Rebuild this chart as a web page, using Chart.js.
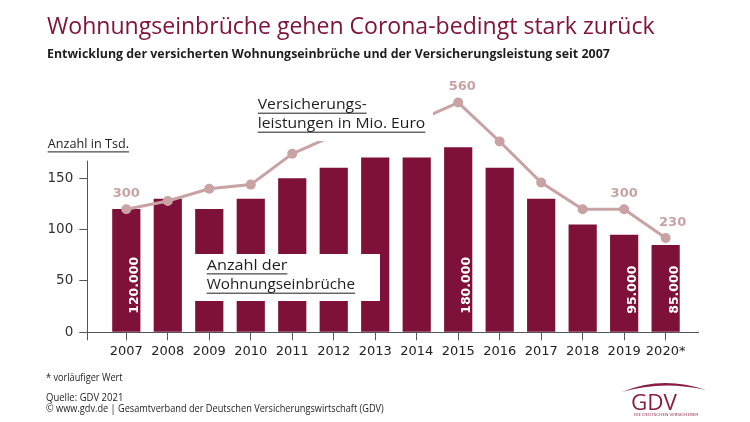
<!DOCTYPE html>
<html><head><meta charset="utf-8">
<script src="https://cdn.jsdelivr.net/npm/chart.js@4.4.1/dist/chart.umd.min.js"></script>
<style>
html,body{margin:0;padding:0;background:#fff;}
#wrap{position:relative;width:750px;height:422px;overflow:hidden;background:#fff;}
#c{position:absolute;left:0;top:0;}
.t{position:absolute;white-space:nowrap;line-height:1;transform-origin:0 0;font-family:'Open Sans',sans-serif;color:#1e1e1e;}
</style></head><body>
<div id="wrap">
<canvas id="c" width="750" height="422"></canvas>
<div class="t" data-w="608" style="left:47px;top:12.7px;font-size:24px;color:#80143f;">Wohnungseinbrüche gehen Corona-bedingt stark zurück</div>
<div class="t" data-w="563" style="left:47px;top:48.2px;font-size:11.5px;font-weight:700;">Entwicklung der versicherten Wohnungseinbrüche und der Versicherungsleistung seit 2007</div>
<div class="t" data-w="77" style="left:46px;top:372.2px;font-size:10px;">* vorläufiger Wert</div>
<div class="t" data-w="77" style="left:46px;top:392.2px;font-size:10px;">Quelle: GDV 2021</div>
<div class="t" data-w="338" style="left:46px;top:402.9px;font-size:10px;">© www.gdv.de | Gesamtverband der Deutschen Versicherungswirtschaft (GDV)</div>
</div>
<script>
// ---- data ----
const categories = ['2007','2008','2009','2010','2011','2012','2013','2014','2015','2016','2017','2018','2019','2020*'];
const burglaries = [120,130,120,130,150,160,170,170,180,160,130,105,95,85];          // Anzahl in Tsd.
const payouts    = [300,320,350,360,435,480,500,515,560,465,365,300,300,230];        // Mio. Euro
const barLabels  = ['120.000','','','','','','','','180.000','','','','95.000','85.000'];
const lineLabels = ['300','','','','','','','','560','','','','300','230'];
const yTicks = [0,50,100,150];
const yAxisTop = 167;

const BAR = '#7e1139';
const LINE = '#c9a2a4';
const Y_MAX = 245.5;
const Y2_MAX = Y_MAX * 2.505;

function fitText(ctx, text, x, y, w) {
  const m = ctx.measureText(text).width;
  ctx.save(); ctx.translate(x, y); ctx.scale(w / m, 1); ctx.fillText(text, 0, 0); ctx.restore();
}

const axisLine = {
  id: 'axisLine',
  beforeDatasetsDraw(chart) {
    const ctx = chart.ctx, ys = chart.scales.y, x = Math.round(chart.chartArea.left) + 0.5;
    ctx.save();
    ctx.strokeStyle = '#555'; ctx.lineWidth = 1;
    ctx.beginPath(); ctx.moveTo(x, ys.getPixelForValue(0)); ctx.lineTo(x, ys.getPixelForValue(yAxisTop)); ctx.stroke();
    ctx.restore();
  }
};

const deco = {
  id: 'deco',
  afterDatasetsDraw(chart) {
    const ctx = chart.ctx;
    const ys = chart.scales.y;
    const zero = ys.getPixelForValue(0);
    // rotated bar labels
    const bm = chart.getDatasetMeta(1);
    ctx.save();
    ctx.fillStyle = '#fff';
    ctx.font = 'bold 12.5px "DejaVu Sans"';
    ctx.textAlign = 'left'; ctx.textBaseline = 'alphabetic';
    barLabels.forEach((lab, i) => {
      if (!lab) return;
      const el = bm.data[i];
      ctx.save();
      ctx.translate(el.x + 12, zero - 18.5);
      ctx.rotate(-Math.PI / 2);
      ctx.fillText(lab, 0, 0);
      ctx.restore();
    });
    ctx.restore();
    // white boxes behind annotations
    ctx.save();
    ctx.fillStyle = '#fff';
    ctx.fillRect(250, 88, 183, 53);
    ctx.fillRect(186, 254, 194, 47);
    ctx.restore();
    // annotation texts
    ctx.save();
    ctx.fillStyle = '#1e1e1e'; ctx.strokeStyle = '#1e1e1e'; ctx.lineWidth = 1;
    ctx.textAlign = 'left'; ctx.textBaseline = 'alphabetic';
    ctx.font = '14px "Open Sans"';
    const ann = [
      ['Versicherungs-', 257.7, 109.3, 109],
      ['leistungen in Mio. Euro', 257.7, 128.3, 167.6],
      ['Anzahl der', 206.7, 270, 80.7],
      ['Wohnungseinbrüche', 206.7, 289.3, 148.3]
    ];
    ann.forEach(a => {
      fitText(ctx, a[0], a[1], a[2], a[3]);
      ctx.beginPath(); ctx.moveTo(a[1], a[2] + 3.9); ctx.lineTo(a[1] + a[3], a[2] + 3.9); ctx.stroke();
    });
    ctx.font = '13px "Open Sans"';
    fitText(ctx, 'Anzahl in Tsd.', 47.7, 148.3, 81.3);
    ctx.beginPath(); ctx.moveTo(47.7, 151.9); ctx.lineTo(129, 151.9); ctx.stroke();
    ctx.restore();
    // line value labels
    const lm = chart.getDatasetMeta(0);
    ctx.save();
    ctx.fillStyle = LINE;
    ctx.font = 'bold 13px "DejaVu Sans"';
    ctx.textAlign = 'center'; ctx.textBaseline = 'middle';
    lineLabels.forEach((lab, i) => {
      if (!lab) return;
      const p = lm.data[i];
      const dx = i === lineLabels.length - 1 ? 7 : (i === 8 ? 4 : 0);
      ctx.fillText(lab, p.x + dx, p.y - 15.5);
    });
    ctx.restore();
    // GDV logo
    ctx.save();
    ctx.fillStyle = '#8a1d45';
    ctx.beginPath();
    ctx.moveTo(622, 392);
    ctx.quadraticCurveTo(662, 375, 706, 390);
    ctx.quadraticCurveTo(662, 380, 622, 392);
    ctx.fill();
    ctx.font = '21px "Open Sans"';
    ctx.textAlign = 'left'; ctx.textBaseline = 'alphabetic';
    fitText(ctx, 'GDV', 631, 410, 46);
    ctx.font = '4px "Open Sans"';
    fitText(ctx, 'DIE DEUTSCHEN VERSICHERER', 634, 416, 64);
    ctx.restore();
  }
};

const chart = new Chart(document.getElementById('c'), {
  data: {
    datasets: [
      {
        type: 'line', order: 0, yAxisID: 'y2',
        data: payouts.map((v, i) => ({x: i, y: v})),
        borderColor: LINE, borderWidth: 3, tension: 0,
        pointRadius: 5, pointBorderWidth: 0, pointBackgroundColor: LINE, pointHoverRadius: 5
      },
      {
        type: 'bar', order: 1, yAxisID: 'y',
        data: burglaries.map((v, i) => ({x: i, y: v})),
        backgroundColor: BAR, borderWidth: 0,
        categoryPercentage: 1, barPercentage: 0.723
      }
    ]
  },
  options: {
    responsive: false, animation: false, devicePixelRatio: 1,
    layout: {padding: {left: 0, top: 80, right: 52, bottom: 59.7}},
    plugins: {legend: {display: false}, tooltip: {enabled: false}},
    scales: {
      x: {
        type: 'linear', position: 'bottom', min: -0.94, max: 13.78, offset: false,
        afterBuildTicks(s) { s.ticks = [{value: -0.94}].concat(categories.map((c, i) => ({value: i}))); },
        afterFit(s) { s.height = 30; },
        ticks: {
          autoSkip: false, maxRotation: 0, padding: 4, color: '#222',
          font: {family: 'DejaVu Sans', size: 13},
          callback: (v) => Number.isInteger(v) ? categories[v] : ''
        },
        grid: {offset: false, drawOnChartArea: false, drawTicks: true, tickLength: 8, color: '#555', lineWidth: 1},
        border: {color: '#555', width: 1}
      },
      y: {
        type: 'linear', position: 'left', min: 0, max: Y_MAX,
        afterBuildTicks(s) { s.ticks = yTicks.map(v => ({value: v})); },
        afterFit(s) { s.width = 87.3; },
        ticks: {padding: 6, color: '#333', font: {family: 'DejaVu Sans', size: 13.5}},
        grid: {drawOnChartArea: false, drawTicks: true, tickLength: 8, color: '#555', lineWidth: 1},
        border: {display: false}
      },
      y2: {type: 'linear', display: false, min: 0, max: Y2_MAX}
    }
  },
  plugins: [axisLine, deco]
});

function fitHtml() {
  document.querySelectorAll('.t[data-w]').forEach(el => {
    el.style.transform = 'none';
    const w = el.offsetWidth;
    el.style.transform = 'scaleX(' + (parseFloat(el.dataset.w) / w) + ')';
  });
}
fitHtml();
if (document.fonts && document.fonts.ready) document.fonts.ready.then(() => { fitHtml(); chart.update('none'); });
</script>
</body></html>
